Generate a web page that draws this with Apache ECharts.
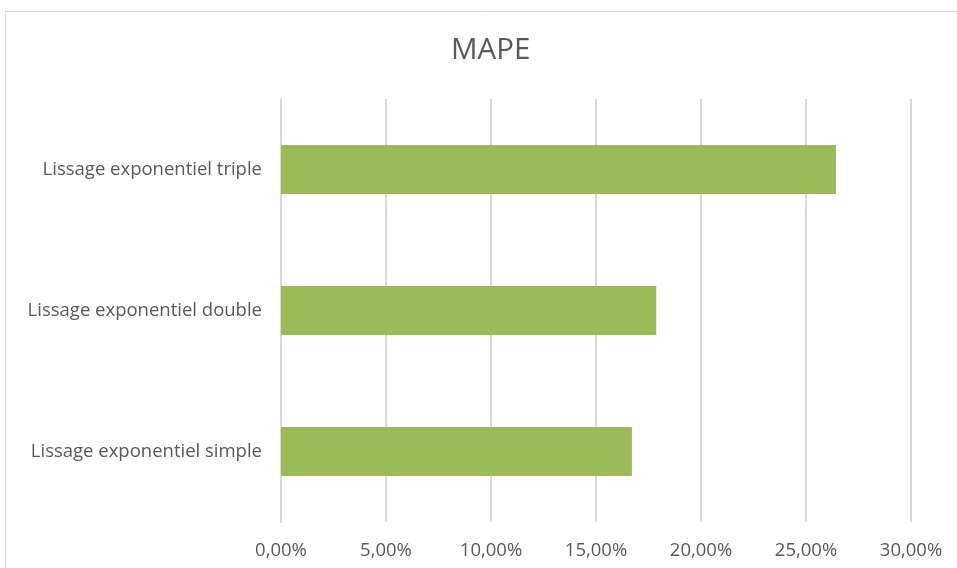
<!DOCTYPE html>
<html><head><meta charset="utf-8">
<script src="https://cdn.jsdelivr.net/npm/echarts@6/dist/echarts.min.js"></script>
<style>html,body{margin:0;padding:0;background:#fff}#c{width:957px;height:568px}</style>
</head><body><div id="c"></div>
<script>
const categories = ["Lissage exponentiel simple", "Lissage exponentiel double", "Lissage exponentiel triple"];
const mapeValues = [0.1671, 0.1787, 0.2643];
const chartTitle = "MAPE";

const chart = echarts.init(document.getElementById('c'), null, {renderer: 'canvas'});
const font = "'Open Sans', 'Noto Sans', sans-serif";
chart.setOption({
  animation: false,
  backgroundColor: '#fff',
  title: {
    text: chartTitle, left: 446, top: 31,
    textStyle: {fontFamily: font, fontSize: 29.5, fontWeight: 'normal', color: '#595959'}
  },
  graphic: [{
    type: 'rect', shape: {x: 5.5, y: 11.5, width: 960, height: 570},
    style: {fill: 'none', stroke: '#d9d9d9', lineWidth: 1}, silent: true
  }],
  grid: {left: 281, right: 46, top: 99, bottom: 46, containLabel: false},
  xAxis: {
    type: 'value', min: 0, max: 0.30, interval: 0.05,
    axisLine: {show: false}, axisTick: {show: false},
    splitLine: {show: true, lineStyle: {color: '#d9d9d9', width: 2}},
    axisLabel: {
      formatter: v => (v * 100).toFixed(2).replace('.', ',') + '%',
      fontFamily: font, fontSize: 18.5, color: '#595959', margin: 19
    }
  },
  yAxis: {
    type: 'category', data: categories,
    axisLine: {show: true, lineStyle: {color: '#d9d9d9', width: 2}},
    axisTick: {show: false},
    axisLabel: {fontFamily: font, fontSize: 18.5, color: '#595959', margin: 19}
  },
  series: [{
    type: 'bar', data: mapeValues, barWidth: 49,
    itemStyle: {color: '#9bbb59'}
  }]
});
</script></body></html>
